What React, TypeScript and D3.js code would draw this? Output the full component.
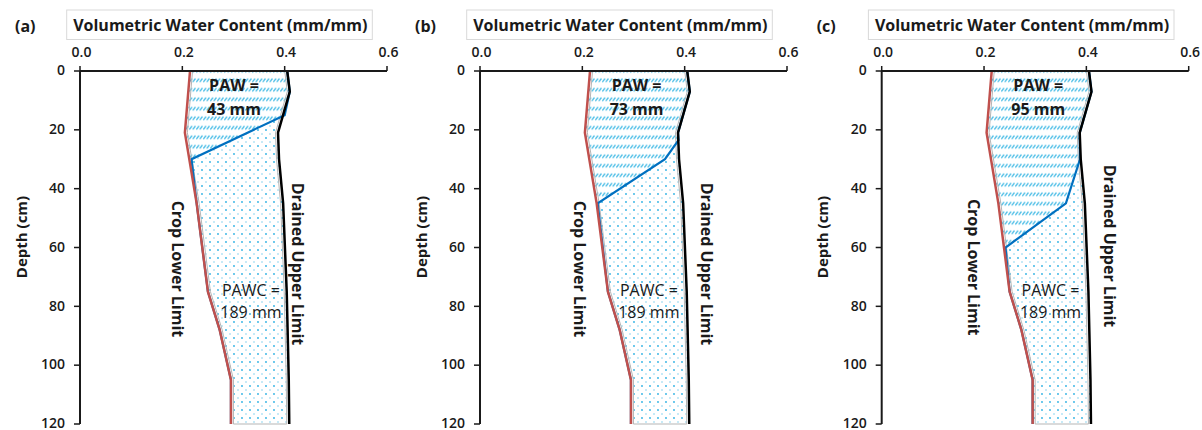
import React from 'react';
import * as d3 from 'd3';

// ---------- data ----------
const panelLabels = ['(a)', '(b)', '(c)'];
const depthTicks = [0, 20, 40, 60, 80, 100, 120];
const vwcTicks = [0, 0.2, 0.4, 0.6];
const pawValues = [43, 73, 95];
const pawcValue = 189;

// Crop Lower Limit (same soil in all panels)
const cllDepth = [0, 21, 45, 75, 88, 105, 120];
const cllValue = [0.215, 0.205, 0.228, 0.25, 0.273, 0.295, 0.295];
// Drained Upper Limit
const dulDepth = [0, 7, 21, 30, 45, 75, 105, 120];
const dulValue = [0.405, 0.41, 0.387, 0.389, 0.397, 0.404, 0.408, 0.409];
// Current soil water per panel
const swDepthA = [0, 7, 15, 30, 45, 75, 88, 105, 120];
const swValueA = [0.405, 0.41, 0.4, 0.218, 0.228, 0.25, 0.273, 0.295, 0.295];
const swDepthB = [0, 7, 21, 23.5, 30, 45, 75, 88, 105, 120];
const swValueB = [0.405, 0.41, 0.387, 0.388, 0.3615, 0.23, 0.25, 0.273, 0.295, 0.295];
const swDepthC = [0, 7, 21, 30, 45, 60, 75, 88, 105, 120];
const swValueC = [0.405, 0.41, 0.387, 0.3875, 0.36, 0.242, 0.25, 0.273, 0.295, 0.295];

const swDepths = [swDepthA, swDepthB, swDepthC];
const swValues = [swValueA, swValueB, swValueC];

// ---------- layout ----------
const panelX = [80, 480, 881.7];
const plotW = 307;
const plotTop = 71;
const plotBottom = 424;
const FONT = "'Open Sans', 'DejaVu Sans', sans-serif";
const TXT = '#1a1a1a';

// label anchors in data units (value, depth)
const cropLabelPos = [[0.191, 67.3], [0.195, 67.3], [0.18, 66.7]];
const drainedLabelPos = [[0.426, 65.6], [0.443, 65.6], [0.447, 59.5]];
const pawLabelX = [0.301, 0.306, 0.306];
const pawcLabelX = [0.334, 0.33, 0.33];

function pts(ds: number[], vs: number[]): [number, number][] {
  return ds.map((d, i) => [vs[i], d]);
}

function Panel({ idx }: { idx: number }) {
  const ox = panelX[idx];
  const x = d3.scaleLinear().domain([0, 0.6]).range([ox, ox + plotW]);
  const y = d3.scaleLinear().domain([0, 120]).range([plotTop, plotBottom]);
  const line = d3
    .line<[number, number]>()
    .x((p) => x(p[0]))
    .y((p) => y(p[1]));

  const cll = pts(cllDepth, cllValue);
  const dul = pts(dulDepth, dulValue);
  const sw = pts(swDepths[idx], swValues[idx]);

  const pawPoly = line([...cll, ...sw.slice().reverse()]) + 'Z';
  const allPoly = line([...cll, ...dul.slice().reverse()]) + 'Z';
  const innerPts: [number, number][] = [
    ...cll.map((p) => [x(p[0]) + 2.5, y(p[1])] as [number, number]),
    ...dul
      .slice()
      .reverse()
      .map((p) => [x(p[0]) - 2.5, y(p[1])] as [number, number]),
  ];
  const innerPath =
    d3
      .line<[number, number]>()
      .x((p) => p[0])
      .y((p) => p[1])(innerPts) + 'Z';

  const [cx, cd] = cropLabelPos[idx];
  const [dx, dd] = drainedLabelPos[idx];

  return (
    <g>
      {/* panel label */}
      <text x={ox - 65} y={32} fontFamily={FONT} fontWeight={700} fontSize={16} fill={TXT}>
        {panelLabels[idx]}
      </text>
      {/* title box */}
      <rect x={ox - 13.3} y={10} width={305.6} height={29.5} fill="#fff" stroke="#d9d9d9" strokeWidth={1} />
      <text
        x={ox + 140.3}
        y={31}
        textAnchor="middle"
        fontFamily={FONT}
        fontWeight={700}
        fontSize={16}
        fill={TXT}
      >
        Volumetric Water Content (mm/mm)
      </text>

      {/* fills */}
      <path d={allPoly} fill="url(#dots)" stroke="none" />
      <path d={pawPoly} fill="#fff" stroke="none" />
      <path d={pawPoly} fill="url(#hatch)" stroke="none" />
      <path d={innerPath} fill="none" stroke="#b5b5b5" strokeWidth={1} />

      {/* lines */}
      <path d={line(sw) || ''} fill="none" stroke="#0070c0" strokeWidth={2.2} />
      <path d={line(cll) || ''} fill="none" stroke="#c0504d" strokeWidth={2.5} />
      <path d={line(dul) || ''} fill="none" stroke="#000" strokeWidth={2.5} />

      {/* x axis (top) */}
      <line x1={x(0)} x2={x(0.6)} y1={plotTop} y2={plotTop} stroke={TXT} strokeWidth={2} />
      {vwcTicks.map((t) => (
        <g key={'xt' + t}>
          <line x1={x(t)} x2={x(t)} y1={plotTop} y2={plotTop - 5} stroke={TXT} strokeWidth={1.5} />
          <text
            x={x(t) + 1.5}
            y={57}
            textAnchor="middle"
            fontFamily={FONT}
            fontWeight={600}
            fontSize={14}
            fill={TXT}
          >
            {t.toFixed(1)}
          </text>
        </g>
      ))}
      {/* y axis */}
      <line x1={ox} x2={ox} y1={plotTop} y2={plotBottom} stroke={TXT} strokeWidth={2} />
      {depthTicks.map((t) => (
        <g key={'yt' + t}>
          <line x1={ox - 6} x2={ox} y1={y(t)} y2={y(t)} stroke={TXT} strokeWidth={1.5} />
          <text
            x={ox - 15}
            y={y(t)}
            dy="0.3em"
            textAnchor="end"
            fontFamily={FONT}
            fontWeight={600}
            fontSize={14}
            fill={TXT}
          >
            {t}
          </text>
        </g>
      ))}
      <text
        transform={`translate(${ox - 59.5},${237}) rotate(-90)`}
        textAnchor="middle"
        dominantBaseline="central"
        fontFamily={FONT}
        fontWeight={700}
        fontSize={15}
        fill={TXT}
      >
        Depth (cm)
      </text>

      {/* line labels */}
      <text
        transform={`translate(${x(cx)},${y(cd)}) rotate(90)`}
        textAnchor="middle"
        dominantBaseline="central"
        fontFamily={FONT}
        fontWeight={700}
        fontSize={16}
        fill={TXT}
      >
        Crop Lower Limit
      </text>
      <text
        transform={`translate(${x(dx)},${y(dd)}) rotate(90)`}
        textAnchor="middle"
        dominantBaseline="central"
        fontFamily={FONT}
        fontWeight={700}
        fontSize={16}
        fill={TXT}
      >
        Drained Upper Limit
      </text>

      {/* PAW / PAWC */}
      <g fontFamily={FONT} fontSize={16} fill={TXT} textAnchor="middle">
        <text x={x(pawLabelX[idx])} y={91} fontWeight={700}>
          PAW =
        </text>
        <text x={x(pawLabelX[idx])} y={115} fontWeight={700}>
          {pawValues[idx]} mm
        </text>
        <text x={x(pawcLabelX[idx])} y={296}>
          PAWC =
        </text>
        <text x={x(pawcLabelX[idx])} y={318}>
          {pawcValue} mm
        </text>
      </g>
    </g>
  );
}

export default function App() {
  return (
    <svg
      width={1202}
      height={430}
      style={{ position: 'absolute', left: 0, top: 0, background: '#fff' }}
    >
      <defs>
        <pattern id="dots" width={8} height={8} patternUnits="userSpaceOnUse">
          <rect width={8} height={8} fill="#fff" />
          <circle cx={2} cy={2} r={0.9} fill="#29b0e3" />
          <circle cx={6} cy={6} r={0.8} fill="#7fd0ee" />
        </pattern>
        <pattern id="hatch" width={3.5} height={9.5} patternUnits="userSpaceOnUse">
          <line x1={0.3} y1={6} x2={3} y2={2.5} stroke="#2cb2e2" strokeWidth={1.2} />
        </pattern>
      </defs>
      <rect width={1202} height={430} fill="#fff" />
      {[0, 1, 2].map((i) => (
        <Panel key={i} idx={i} />
      ))}
    </svg>
  );
}
